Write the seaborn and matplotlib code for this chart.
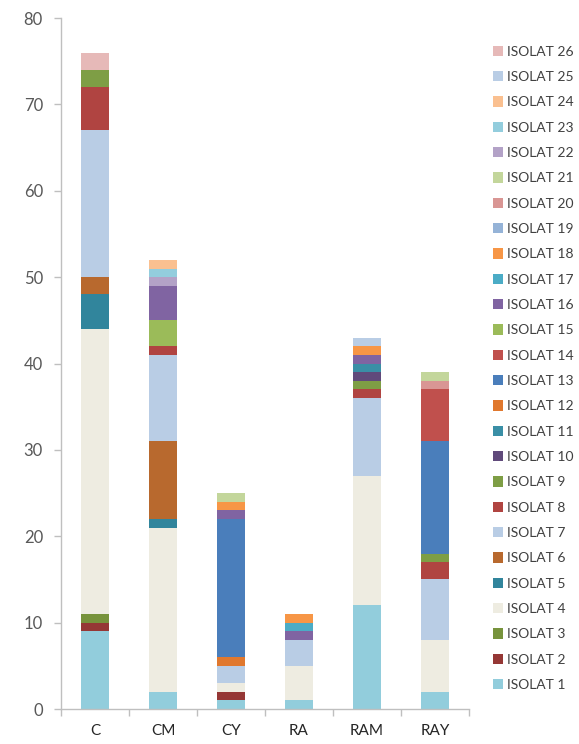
import matplotlib
matplotlib.use("Agg")
import matplotlib.pyplot as plt
import numpy as np
import pandas as pd
import seaborn as sns

# Sampling sites (x categories)
sites = ["C", "CM", "CY", "RA", "RAM", "RAY"]

# Isolate labels 1..26
isolates = [f"ISOLAT {i}" for i in range(1, 27)]

# Counts per isolate (ISOLAT 1 .. ISOLAT 26) for each site
c_counts   = [9, 1, 1, 33, 4, 2, 17, 5, 2, 0, 0, 0, 0, 0, 0, 0, 0, 0, 0, 0, 0, 0, 0, 0, 0, 2]
cm_counts  = [2, 0, 0, 19, 1, 9, 10, 1, 0, 0, 0, 0, 0, 0, 3, 4, 0, 0, 0, 0, 0, 1, 1, 1, 0, 0]
cy_counts  = [1, 1, 0, 1, 0, 0, 2, 0, 0, 0, 0, 1, 16, 0, 0, 1, 0, 1, 0, 0, 1, 0, 0, 0, 0, 0]
ra_counts  = [1, 0, 0, 4, 0, 0, 3, 0, 0, 0, 0, 0, 0, 0, 0, 1, 1, 1, 0, 0, 0, 0, 0, 0, 0, 0]
ram_counts = [12, 0, 0, 15, 0, 0, 9, 1, 1, 1, 1, 0, 0, 0, 0, 1, 0, 1, 0, 0, 0, 0, 0, 0, 1, 0]
ray_counts = [2, 0, 0, 6, 0, 0, 7, 2, 1, 0, 0, 0, 13, 6, 0, 0, 0, 0, 0, 1, 1, 0, 0, 0, 0, 0]

# Colours for ISOLAT 1 .. ISOLAT 26
isolate_colors = [
    "#92CDDC", "#953735", "#77933C", "#EEECE1", "#31859C", "#B8692E",
    "#B9CDE5", "#B04441", "#7E9E45", "#604A7B", "#3A8FA6", "#E0782E",
    "#4A7EBB", "#C0504D", "#9BBB59", "#8064A2", "#4BACC6", "#F79646",
    "#95B3D7", "#D99694", "#C3D69B", "#B3A2C7", "#93CDDD", "#FAC090",
    "#B9CDE5", "#E6B9B8",
]

site_counts = [c_counts, cm_counts, cy_counts, ra_counts, ram_counts, ray_counts]
rows = []
for site, counts in zip(sites, site_counts):
    for iso, n in zip(isolates, counts):
        rows.append({"site": site, "isolate": iso, "count": n})
df = pd.DataFrame(rows)

sns.set_theme(style="white")
plt.rcParams["font.family"] = ["Lato", "DejaVu Sans"]

fig = plt.figure(figsize=(5.79, 7.44), dpi=100)
ax = fig.add_axes([0.1054, 0.047, 0.7046, 0.9288])

palette = dict(zip(isolates, isolate_colors))
hue_order = isolates[::-1]  # first level is stacked on top

sns.histplot(
    data=df, x="site", weights="count", hue="isolate",
    hue_order=hue_order, palette=palette, multiple="stack",
    discrete=True, shrink=0.41, alpha=1, linewidth=0,
    ax=ax, legend=True,
)

ax.set_xlim(-0.5, 5.5)
ax.set_ylim(0, 80)
ax.set_yticks(np.arange(0, 81, 10))
ax.set_xlabel("")
ax.set_ylabel("")

axis_gray = "#BFBFBF"
label_gray = "#595959"
for side in ["top", "right"]:
    ax.spines[side].set_visible(False)
for side in ["left", "bottom"]:
    ax.spines[side].set_color(axis_gray)
    ax.spines[side].set_linewidth(1.0)

ax.tick_params(axis="y", which="major", direction="out", length=5, width=1,
               color=axis_gray, labelcolor=label_gray, labelsize=12, pad=8, left=True)
ax.tick_params(axis="x", which="major", length=0, labelcolor="#262626",
               labelsize=11, pad=11, bottom=True)
ax.set_xticks(np.arange(-0.5, 6, 1), minor=True)
ax.tick_params(axis="x", which="minor", direction="out", length=5, width=1,
               color=axis_gray, bottom=True)

# Legend on the right, ISOLAT 26 at top down to ISOLAT 1
old = ax.get_legend()
handles = old.legend_handles
labels = [t.get_text() for t in old.get_texts()]
old.remove()
ax.legend(
    handles, labels, loc="upper left", bbox_to_anchor=(1.045, 0.968),
    frameon=False, fontsize=10, labelcolor="#404040",
    handlelength=0.75, handleheight=0.75, handletextpad=0.3,
    labelspacing=0.96, borderaxespad=0,
)

fig.savefig("out.png", dpi=100)
